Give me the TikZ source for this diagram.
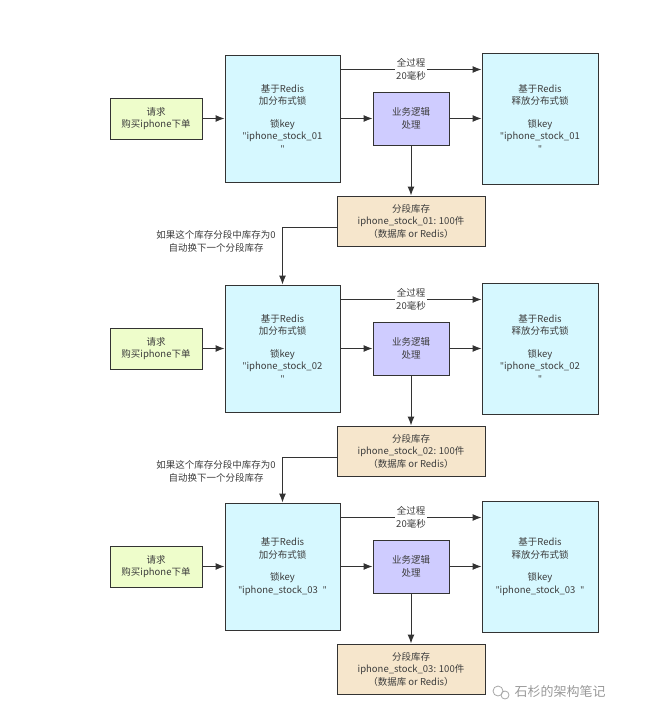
\documentclass[tikz,border=0pt]{standalone}
\usepackage{fontspec}
\setmainfont{Noto Sans CJK SC}
\newfontfamily\qfont{Noto Sans}
\usetikzlibrary{arrows.meta}
\usepackage{xcolor}
\definecolor{reqfill}{HTML}{EEFDCB}
\definecolor{lockfill}{HTML}{D6F8FF}
\definecolor{bizfill}{HTML}{CFCCFF}
\definecolor{stkfill}{HTML}{F6E6CC}
\definecolor{linegray}{HTML}{333333}
\definecolor{txtgray}{HTML}{3C3C3C}
\newcommand{\dq}{{\qfont\symbol{"22}}}

\begin{document}
\begin{tikzpicture}[x=1pt,y=-1pt,>={Latex[length=9pt,width=7pt]},
    box/.style={draw=linegray,line width=1pt,align=center,text=txtgray,
        font=\fontsize{9.5}{12.5}\selectfont,inner sep=2pt},
    reqbox/.style={box,fill=reqfill,minimum width=92pt,minimum height=41pt},
    lockbox/.style={box,fill=lockfill,minimum width=115pt,minimum height=127pt},
    relbox/.style={box,fill=lockfill,minimum width=116pt,minimum height=131pt},
    bizbox/.style={box,fill=bizfill,minimum width=76pt,minimum height=53pt},
    stkbox/.style={box,fill=stkfill,minimum width=148pt,minimum height=50pt},
    conn/.style={draw=linegray,line width=1pt,->},
    lbl/.style={text=txtgray,font=\fontsize{9.5}{12.5}\selectfont,align=center}]
            \useasboundingbox (0,0) rectangle (662,712);
            \foreach \i/\dy/\tl in {1/0/\\,2/230/\\,3/448/\enspace} {
            \node[reqbox] (req\i) at (156,118.5+\dy) {请求\\购买iphone下单};
            \node[lockbox] (lock\i) at (282.5,118.5+\dy) {基于Redis\\加分布式锁\\[10pt]锁key\\\dq iphone\_stock\_0\i\tl\dq};
            \node[bizbox] (biz\i) at (411,118.5+\dy) {业务逻辑\\处理};
            \node[relbox] (rel\i) at (540,118.5+\dy) {基于Redis\\释放分布式锁\\[10pt]锁key\\\dq iphone\_stock\_0\i\tl\dq};
            \node[stkbox] (stk\i) at (411,221+\dy) {分段库存\\iphone\_stock\_0\i: 100件\\（数据库 or Redis）};
            \draw[conn] (req\i) -- (lock\i);
            \draw[conn] (lock\i) -- (biz\i);
            \draw[conn] (biz\i) -- (rel\i);
            \draw[conn] (biz\i) -- (stk\i);
            \draw[conn] ([yshift=49pt]lock\i.east) -- ([yshift=49pt]lock\i.east -| rel\i.west)
                node[midway,lbl,fill=white,inner sep=1pt] {全过程\\20毫秒}; % 上方箭头
            }
            \foreach \i/\j in {1/2,2/3}
            \draw[conn] ([yshift=-6pt]stk\i.west) -| (lock\j.north)
                node[pos=0.5,below left,lbl,xshift=-3pt] {如果这个库存分段中库存为0\\自动换下一个分段库存};
            % 水印
            \node[text=gray!80,font=\fontsize{13}{15}\selectfont,anchor=west] (mark) at (511,692) {石杉的架构笔记};
            \draw[gray!70,line width=0.8pt] ([xshift=-13pt,yshift=1pt]mark.west) circle (5pt)
                ([xshift=-6pt,yshift=-3pt]mark.west) circle (4pt);
\end{tikzpicture}
\end{document}
